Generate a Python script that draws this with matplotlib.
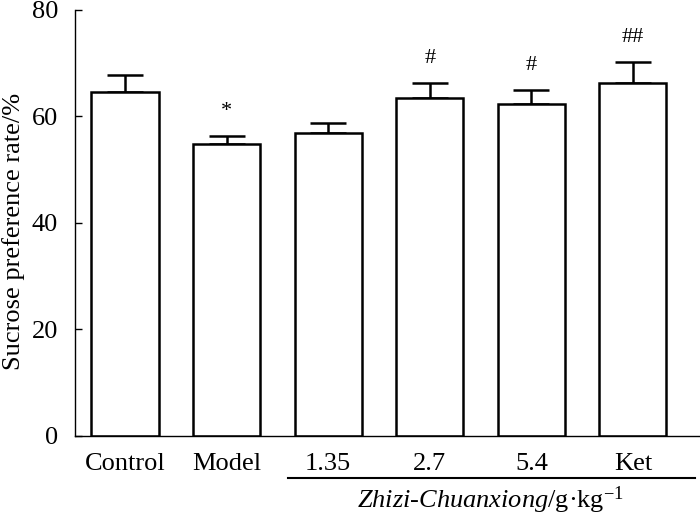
import matplotlib
matplotlib.use("Agg")
import matplotlib.pyplot as plt
import numpy as np

plt.rcParams["font.family"] = "Liberation Serif"
plt.rcParams["mathtext.fontset"] = "custom"
plt.rcParams["mathtext.rm"] = "Liberation Serif"
plt.rcParams["mathtext.it"] = "Liberation Serif:italic"

# 数据
groups = ["Control", "Model", "1.35", "2.7", "5.4", "Ket"]
means = [64.6, 54.8, 56.9, 63.4, 62.3, 66.3]
errs = [3.1, 1.6, 1.8, 2.8, 2.7, 3.9]
marks = ["", "*", "", "#", "#", "##"]
y_ticks = [0, 20, 40, 60, 80]

fig = plt.figure(figsize=(7, 5.19), dpi=100)
ax = fig.add_axes([0.107, 0.160, 0.893, 0.821])

x = np.arange(len(groups))
ax.bar(
    x,
    means,
    width=0.66,
    color="white",
    edgecolor="black",
    linewidth=1.8,
    zorder=2,
)
ax.errorbar(
    x,
    means,
    yerr=[np.zeros(len(errs)), errs],
    fmt="none",
    ecolor="black",
    elinewidth=1.8,
    capsize=13,
    capthick=1.8,
    zorder=1,
)

# 显著性标记
for xi, m, e, s in zip(x, means, errs, marks):
    if s:
        ax.text(xi, m + e + 2.8, s, ha="center", va="bottom", fontsize=16)

ax.set_xlim(-0.493, 5.66)
ax.set_ylim(0, 80)
ax.set_yticks(y_ticks)
ax.set_xticks(x)
ax.set_xticklabels(groups, fontsize=19)
ax.tick_params(axis="y", direction="in", length=5, width=1.0, labelsize=19, pad=12)
ax.tick_params(axis="x", length=0, pad=12)
ax.set_ylabel("Sucrose preference rate/%", fontsize=19)
ax.yaxis.set_label_coords(-0.08, 0.48)

ax.spines["top"].set_visible(False)
ax.spines["right"].set_visible(False)
ax.spines["left"].set_linewidth(1.0)
ax.spines["bottom"].set_linewidth(1.0)

# 剂量组下划线和说明
trans = ax.get_xaxis_transform()
ax.plot([1.6, 5.61], [-0.0986, -0.0986], color="black", linewidth=1.5,
        transform=trans, clip_on=False)
ax.text(
    3.6,
    -0.168,
    r"$\mathit{Zhizi}$-$\mathit{Chuanxiong}$/g·kg$^{-1}$",
    ha="center",
    va="baseline",
    fontsize=19,
    transform=trans,
)

plt.savefig("out.png", dpi=100)
